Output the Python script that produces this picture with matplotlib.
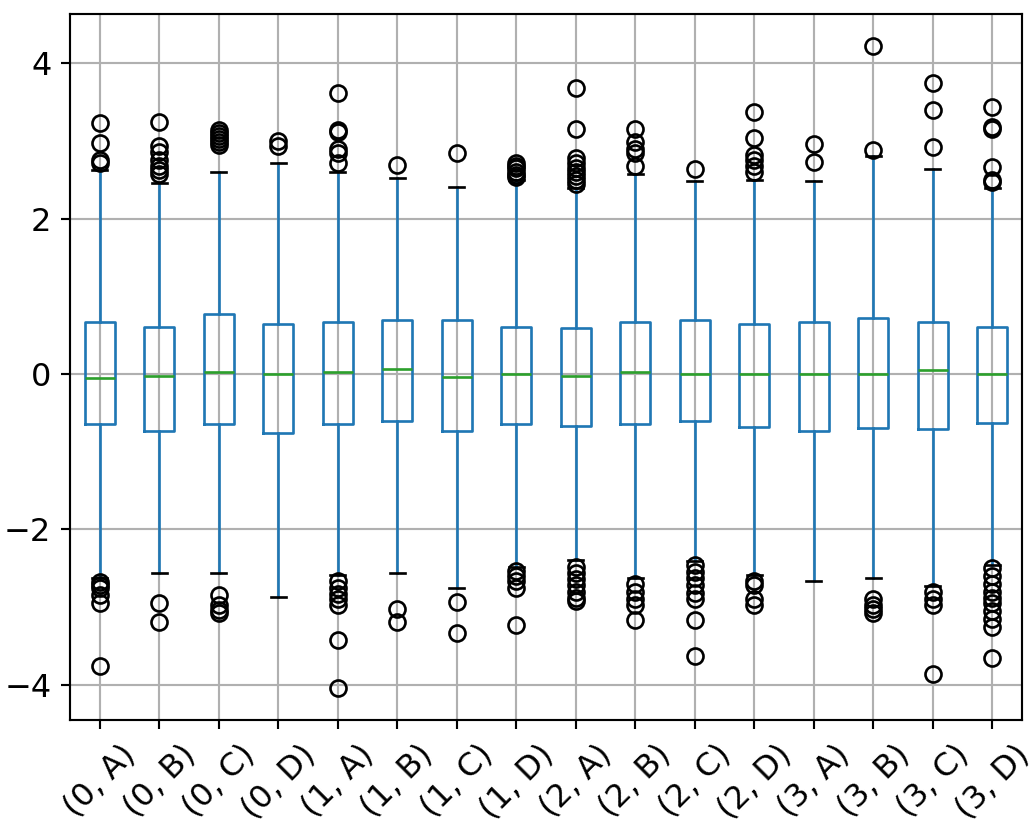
import matplotlib
matplotlib.use("Agg")
import matplotlib.pyplot as plt

plt.rcParams["font.size"] = 12

labels = ["(0, A)", "(0, B)", "(0, C)", "(0, D)", "(1, A)", "(1, B)", "(1, C)", "(1, D)",
          "(2, A)", "(2, B)", "(2, C)", "(2, D)", "(3, A)", "(3, B)", "(3, C)", "(3, D)"]

medians = [-0.05, -0.03, 0.03, 0.0, 0.02, 0.06, -0.04, 0.0,
           -0.03, 0.02, 0.0, 0.0, 0.0, 0.0, 0.05, 0.0]
q1 = [-0.65, -0.73, -0.65, -0.76, -0.65, -0.60, -0.74, -0.65,
      -0.67, -0.65, -0.60, -0.68, -0.73, -0.69, -0.71, -0.63]
q3 = [0.67, 0.61, 0.77, 0.64, 0.67, 0.69, 0.69, 0.61,
      0.59, 0.67, 0.69, 0.64, 0.67, 0.72, 0.67, 0.61]
whis_lo = [-2.63, -2.56, -2.56, -2.87, -2.59, -2.56, -2.76, -2.49,
           -2.40, -2.62, -2.41, -2.59, -2.67, -2.62, -2.73, -2.46]
whis_hi = [2.63, 2.46, 2.60, 2.72, 2.60, 2.52, 2.41, 2.50,
           2.39, 2.58, 2.49, 2.50, 2.49, 2.80, 2.64, 2.40]

fliers_hi = [
    [3.23, 2.97, 2.75, 2.72],
    [3.24, 2.93, 2.86, 2.75, 2.68, 2.62, 2.58],
    [3.14, 3.10, 3.06, 3.02, 2.98, 2.95],
    [3.00, 2.93],
    [3.62, 3.14, 3.12, 2.90, 2.85, 2.72],
    [2.69],
    [2.85],
    [2.72, 2.68, 2.65, 2.60, 2.56, 2.53],
    [3.68, 3.15, 2.78, 2.72, 2.65, 2.60, 2.55, 2.50, 2.45],
    [3.15, 2.98, 2.90, 2.85, 2.68],
    [2.64],
    [3.37, 3.04, 2.82, 2.76, 2.68, 2.60],
    [2.96, 2.73],
    [4.22, 2.88],
    [3.74, 3.40, 2.92],
    [3.44, 3.18, 3.15, 2.67, 2.50, 2.47],
]
fliers_lo = [
    [-2.68, -2.72, -2.76, -2.84, -2.95, -3.76],
    [-2.95, -3.19],
    [-2.85, -2.97, -3.04, -3.08],
    [],
    [-2.67, -2.75, -2.83, -2.90, -2.97, -3.42, -4.04],
    [-3.03, -3.19],
    [-2.94, -3.33],
    [-2.54, -2.60, -2.67, -2.75, -3.23],
    [-2.48, -2.56, -2.64, -2.72, -2.80, -2.88, -2.92],
    [-2.70, -2.80, -2.90, -2.97, -3.17],
    [-2.46, -2.55, -2.63, -2.72, -2.82, -2.90, -3.17, -3.63],
    [-2.67, -2.72, -2.90, -2.97],
    [],
    [-2.90, -2.97, -3.03, -3.08],
    [-2.80, -2.90, -2.97, -3.86],
    [-2.50, -2.60, -2.70, -2.80, -2.88, -2.95, -3.05, -3.15, -3.25, -3.66],
]

stats = []
for i, lab in enumerate(labels):
    stats.append({
        "label": lab,
        "med": medians[i],
        "q1": q1[i],
        "q3": q3[i],
        "whislo": whis_lo[i],
        "whishi": whis_hi[i],
        "fliers": fliers_hi[i] + fliers_lo[i],
    })

dpi = 192
fig = plt.figure(figsize=(1034 / dpi, 828 / dpi), dpi=dpi)
ax = fig.add_axes([70 / 1034, 108 / 828, 952 / 1034, 706 / 828])

ax.bxp(stats,
       boxprops=dict(color="#1f77b4"),
       whiskerprops=dict(color="#1f77b4"),
       capprops=dict(color="black"),
       medianprops=dict(color="#2ca02c"),
       flierprops=dict(marker="o", markerfacecolor="none", markeredgecolor="black"))

ax.grid(True)
ax.set_axisbelow(True)
ax.set_yticks([-4, -2, 0, 2, 4])
ax.set_yticklabels(["\u22124", "\u22122", "0", "2", "4"])
plt.setp(ax.get_xticklabels(), rotation=45)

fig.savefig("out.png", dpi=dpi)
